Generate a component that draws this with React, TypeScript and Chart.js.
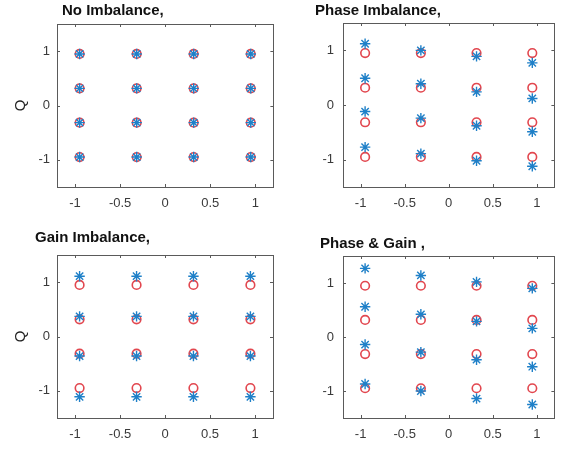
import React, { useEffect, useRef } from 'react';
import { Chart, registerables } from 'chart.js';

Chart.register(...registerables);

// ---- data ----
const X_TICKS = [-1, -0.5, 0, 0.5, 1];
const Y_TICKS = [-1, 0, 1];

// ideal 16-QAM reference points (red circles)
const IDEAL_I = [-0.949, -0.949, -0.949, -0.949, -0.316, -0.316, -0.316, -0.316, 0.316, 0.316, 0.316, 0.316, 0.949, 0.949, 0.949, 0.949];
const IDEAL_Q = [0.949, 0.316, -0.316, -0.949, 0.949, 0.316, -0.316, -0.949, 0.949, 0.316, -0.316, -0.949, 0.949, 0.316, -0.316, -0.949];

// received points (blue asterisks)
const NO_IMB_I = [-0.949, -0.949, -0.949, -0.949, -0.316, -0.316, -0.316, -0.316, 0.316, 0.316, 0.316, 0.316, 0.949, 0.949, 0.949, 0.949];
const NO_IMB_Q = [0.949, 0.316, -0.316, -0.949, 0.949, 0.316, -0.316, -0.949, 0.949, 0.316, -0.316, -0.949, 0.949, 0.316, -0.316, -0.949];

const PHASE_I = [-0.949, -0.949, -0.949, -0.949, -0.316, -0.316, -0.316, -0.316, 0.316, 0.316, 0.316, 0.316, 0.949, 0.949, 0.949, 0.949];
const PHASE_Q = [1.12, 0.49, -0.12, -0.77, 1.0, 0.39, -0.24, -0.89, 0.89, 0.24, -0.38, -1.02, 0.77, 0.12, -0.49, -1.12];

const GAIN_I = [-0.949, -0.949, -0.949, -0.949, -0.316, -0.316, -0.316, -0.316, 0.316, 0.316, 0.316, 0.316, 0.949, 0.949, 0.949, 0.949];
const GAIN_Q = [1.11, 0.37, -0.36, -1.11, 1.11, 0.37, -0.36, -1.11, 1.11, 0.37, -0.36, -1.11, 1.11, 0.37, -0.36, -1.11];

const PG_I = [-0.949, -0.949, -0.949, -0.949, -0.316, -0.316, -0.316, -0.316, 0.316, 0.316, 0.316, 0.316, 0.949, 0.949, 0.949, 0.949];
const PG_Q = [1.27, 0.56, -0.14, -0.87, 1.14, 0.42, -0.28, -1.0, 1.02, 0.29, -0.42, -1.14, 0.9, 0.16, -0.55, -1.25];

const TITLES = ['No Imbalance,', 'Phase Imbalance,', 'Gain Imbalance,', 'Phase & Gain ,'];

// ---- styles ----
const CIRCLE_COLOR = '#e2474f';
const STAR_COLOR = '#1f80c8';
const FRAME_COLOR = '#5a5a5a';
const TICK_COLOR = '#3a3a3a';
const FONT = "'Liberation Sans', Arial, Helvetica, sans-serif";

type PanelDef = {
  title: string;
  si: number[];
  sq: number[];
  left: number;
  top: number;
  w: number;
  h: number;
  area: { l: number; t: number; r: number; b: number };
  tx: number;
  ty: number;
  yTitle: boolean;
  yPad: number;
};

const PANELS: PanelDef[] = [
  { title: TITLES[0], si: NO_IMB_I, sq: NO_IMB_Q, left: 0, top: 0, w: 280, h: 225, area: { l: 57, t: 24, r: 274, b: 187 }, tx: 62, ty: 11, yTitle: true, yPad: 7 },
  { title: TITLES[1], si: PHASE_I, sq: PHASE_Q, left: 280, top: 0, w: 281, h: 225, area: { l: 63, t: 23, r: 279, b: 187 }, tx: 35, ty: 11, yTitle: false, yPad: 9 },
  { title: TITLES[2], si: GAIN_I, sq: GAIN_Q, left: 0, top: 225, w: 280, h: 225, area: { l: 57, t: 30, r: 273, b: 193 }, tx: 35, ty: 13, yTitle: true, yPad: 7 },
  { title: TITLES[3], si: PG_I, sq: PG_Q, left: 280, top: 225, w: 281, h: 225, area: { l: 63, t: 31, r: 279, b: 193 }, tx: 40, ty: 19, yTitle: false, yPad: 9 },
];

function toPoints(xs: number[], ys: number[]) {
  return xs.map((x, i) => ({ x, y: ys[i] }));
}

const fmt = (v: any) => String(Number(v));

function PanelChart({ p }: { p: PanelDef }) {
  const ref = useRef<HTMLCanvasElement | null>(null);

  useEffect(() => {
    if (!ref.current) return;
    const framePlugin = {
      id: 'frameTicks',
      afterDraw(chart: any) {
        const { ctx, chartArea } = chart;
        const { left, right, top, bottom } = chartArea;
        const xs = chart.scales.x;
        const ys = chart.scales.y;
        ctx.save();
        ctx.strokeStyle = FRAME_COLOR;
        ctx.lineWidth = 1;
        ctx.strokeRect(Math.round(left) + 0.5, Math.round(top) + 0.5, Math.round(right - left), Math.round(bottom - top));
        const tl = 3;
        ctx.beginPath();
        X_TICKS.forEach((v) => {
          const px = Math.round(xs.getPixelForValue(v)) + 0.5;
          ctx.moveTo(px, bottom);
          ctx.lineTo(px, bottom - tl);
          ctx.moveTo(px, top);
          ctx.lineTo(px, top + tl);
        });
        Y_TICKS.forEach((v) => {
          const py = Math.round(ys.getPixelForValue(v)) + 0.5;
          ctx.moveTo(left, py);
          ctx.lineTo(left + tl, py);
          ctx.moveTo(right, py);
          ctx.lineTo(right - tl, py);
        });
        ctx.stroke();
        // panel title
        ctx.fillStyle = '#111';
        ctx.font = `bold 15px ${FONT}`;
        ctx.textAlign = 'left';
        ctx.textBaseline = 'middle';
        ctx.fillText(p.title, p.tx, p.ty);
        ctx.restore();
      },
    };

    const chart = new Chart(ref.current, {
      type: 'scatter',
      data: {
        datasets: [
          {
            label: 'received',
            data: toPoints(p.si, p.sq),
            pointStyle: 'star',
            pointRadius: 5.2,
            borderColor: STAR_COLOR,
            backgroundColor: STAR_COLOR,
            borderWidth: 1.4,
            order: 0,
          },
          {
            label: 'ideal',
            data: toPoints(IDEAL_I, IDEAL_Q),
            pointStyle: 'circle',
            pointRadius: 4.3,
            borderColor: CIRCLE_COLOR,
            backgroundColor: 'rgba(0,0,0,0)',
            borderWidth: 1.6,
            order: 1,
          },
        ],
      },
      options: {
        responsive: false,
        animation: false,
        devicePixelRatio: 1,
        layout: {
          padding: { top: p.area.t, right: p.w - p.area.r, left: 0, bottom: 0 },
        },
        plugins: {
          legend: { display: false },
          tooltip: { enabled: false },
          title: { display: false },
        },
        scales: {
          x: {
            type: 'linear',
            min: -1.2,
            max: 1.2,
            grid: { display: false, drawTicks: false },
            border: { display: false },
            ticks: { padding: 9, color: TICK_COLOR, font: { size: 13, family: FONT }, maxRotation: 0, autoSkip: false, callback: fmt },
            afterBuildTicks: (s: any) => {
              s.ticks = X_TICKS.map((v) => ({ value: v }));
            },
            afterFit: (s: any) => {
              s.height = p.h - p.area.b;
            },
          },
          y: {
            type: 'linear',
            min: -1.5,
            max: 1.5,
            grid: { display: false, drawTicks: false },
            border: { display: false },
            ticks: { padding: p.yPad, color: TICK_COLOR, font: { size: 13, family: FONT }, autoSkip: false, callback: fmt },
            title: {
              display: p.yTitle,
              text: 'Q',
              color: '#222',
              font: { size: 15, family: FONT },
              padding: { top: 12, bottom: 0 },
            },
            afterBuildTicks: (s: any) => {
              s.ticks = Y_TICKS.map((v) => ({ value: v }));
            },
            afterFit: (s: any) => {
              s.width = p.area.l;
            },
          },
        },
      },
      plugins: [framePlugin],
    });
    return () => chart.destroy();
  }, [p]);

  return (
    <canvas
      ref={ref}
      width={p.w}
      height={p.h}
      style={{ position: 'absolute', left: p.left, top: p.top, width: p.w, height: p.h }}
    />
  );
}

export default function App() {
  return (
    <div style={{ position: 'fixed', left: 0, top: 0, width: 561, height: 450, background: '#ffffff', overflow: 'hidden' }}>
      {PANELS.map((p, i) => (
        <PanelChart key={i} p={p} />
      ))}
    </div>
  );
}
